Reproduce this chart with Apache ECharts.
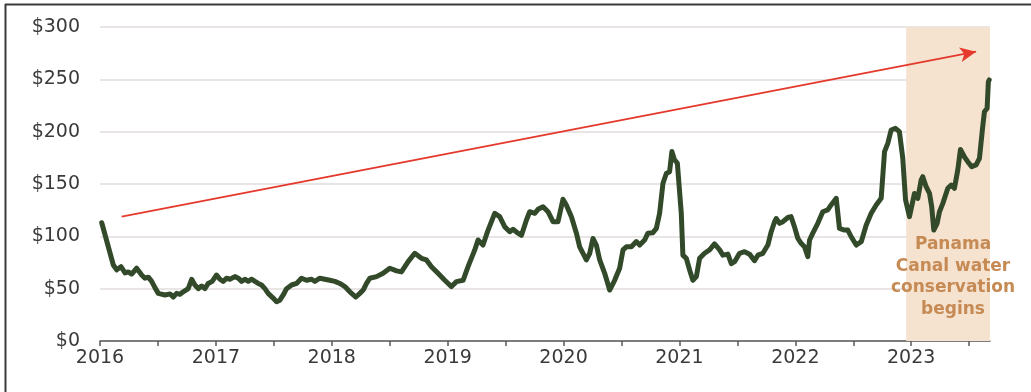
<!DOCTYPE html>
<html>
<head>
<meta charset="utf-8">
<script src="https://cdn.jsdelivr.net/npm/echarts@6/dist/echarts.min.js"></script>
<style>
  html, body { margin: 0; padding: 0; background: #ffffff; }
  #chart { width: 1031px; height: 392px; }
</style>
</head>
<body>
<div id="chart"></div>
<script>
// Weekly freight rate, dates as decimal years
const weeks = [
  2016.015, 2016.115, 2016.144, 2016.181, 2016.216, 2016.244, 2016.273, 2016.316, 2016.360, 2016.388,
  2016.417, 2016.446, 2016.474, 2016.503, 2016.561, 2016.604, 2016.632, 2016.661, 2016.690, 2016.718,
  2016.761, 2016.791, 2016.819, 2016.848, 2016.877, 2016.905, 2016.934, 2016.968, 2017.006, 2017.035,
  2017.063, 2017.093, 2017.121, 2017.164, 2017.193, 2017.222, 2017.250, 2017.279, 2017.308, 2017.337,
  2017.365, 2017.394, 2017.423, 2017.451, 2017.494, 2017.524, 2017.552, 2017.581, 2017.610, 2017.653,
  2017.696, 2017.739, 2017.782, 2017.826, 2017.854, 2017.897, 2017.940, 2017.983, 2018.027, 2018.070,
  2018.113, 2018.156, 2018.208, 2018.242, 2018.271, 2018.300, 2018.328, 2018.386, 2018.443, 2018.501,
  2018.559, 2018.601, 2018.659, 2018.716, 2018.774, 2018.817, 2018.860, 2018.917, 2018.975, 2019.033,
  2019.076, 2019.133, 2019.176, 2019.234, 2019.262, 2019.305, 2019.349, 2019.406, 2019.449, 2019.493,
  2019.536, 2019.564, 2019.607, 2019.637, 2019.680, 2019.708, 2019.751, 2019.780, 2019.823, 2019.866,
  2019.909, 2019.952, 2019.995, 2020.024, 2020.068, 2020.111, 2020.139, 2020.197, 2020.226, 2020.254,
  2020.283, 2020.312, 2020.355, 2020.398, 2020.441, 2020.484, 2020.513, 2020.542, 2020.585, 2020.628,
  2020.657, 2020.700, 2020.728, 2020.771, 2020.801, 2020.829, 2020.858, 2020.887, 2020.915, 2020.935,
  2020.958, 2020.982, 2021.016, 2021.030, 2021.059, 2021.088, 2021.116, 2021.146, 2021.174, 2021.217,
  2021.260, 2021.303, 2021.347, 2021.375, 2021.418, 2021.448, 2021.476, 2021.519, 2021.562, 2021.605,
  2021.648, 2021.677, 2021.720, 2021.763, 2021.792, 2021.821, 2021.835, 2021.864, 2021.893, 2021.936,
  2021.964, 2021.993, 2022.022, 2022.050, 2022.079, 2022.108, 2022.123, 2022.151, 2022.194, 2022.237,
  2022.280, 2022.309, 2022.353, 2022.381, 2022.424, 2022.453, 2022.482, 2022.526, 2022.569, 2022.612,
  2022.655, 2022.698, 2022.741, 2022.770, 2022.798, 2022.827, 2022.864, 2022.898, 2022.927, 2022.951,
  2022.985, 2023.028, 2023.057, 2023.086, 2023.100, 2023.129, 2023.158, 2023.177, 2023.195, 2023.224,
  2023.244, 2023.273, 2023.316, 2023.345, 2023.373, 2023.402, 2023.425, 2023.459, 2023.488, 2023.522,
  2023.560, 2023.589, 2023.617, 2023.632, 2023.655, 2023.666, 2023.673
];
const rates = [
  113, 72.6, 68, 71, 65, 66, 64, 69.5, 63, 60,
  61, 57, 51, 45.5, 44, 45, 42, 45.5, 44.6, 47,
  50, 59, 53.5, 50, 52.5, 50, 55, 57, 63, 59,
  57, 60, 59, 61.5, 60, 57, 59, 57, 59, 57,
  55, 53.5, 50, 45.5, 41, 37.5, 39, 44, 50, 53.5,
  55, 60, 58, 59, 57, 60, 59, 58, 57, 55,
  52, 47, 42, 45.5, 48.7, 55, 60, 61.5, 64.7, 69.5,
  67, 66, 75.8, 83.8, 79, 77.4, 71, 64.7, 58, 52,
  56.7, 58, 71, 87, 96.5, 91.7, 106, 122, 118.8, 109,
  104.4, 106.7, 103, 101, 115.6, 123.5, 122, 125.8, 128.3, 123.5,
  114, 114, 135.4, 130, 118.8, 103, 90, 77.4, 83.8, 98,
  91.7, 77.4, 64.7, 48.7, 58, 69.5, 87, 90, 90, 95,
  91.7, 96.5, 103, 103.5, 107.6, 122, 150.7, 160, 161.7, 181,
  173, 170, 122, 82, 79, 67.8, 58, 61.5, 79, 83.8,
  87, 92.7, 87, 82, 83, 74, 75.8, 83.8, 85.3, 83,
  76.7, 82, 83.8, 91.7, 104.4, 114, 117, 112.4, 114, 118,
  118.8, 109, 98, 93.3, 90, 80.5, 96.5, 103, 112.4, 123.5,
  125.2, 130, 136.3, 107.6, 106, 106, 99.6, 91.7, 94.9, 110.8,
  122, 130, 136.3, 181, 188.8, 201.6, 203.2, 200, 175, 135,
  118.8, 141, 136.3, 153.8, 157, 147.4, 141, 128.3, 106, 112.4,
  123.5, 131.5, 145.9, 149, 145.9, 163.4, 183, 176, 171.3, 166.6,
  168.2, 174.5, 204.7, 219, 222.3, 247.7, 249.4
];

// Axis ticks
const yearLabels = [2016, 2017, 2018, 2019, 2020, 2021, 2022, 2023];
const halfYearTicks = [2016, 2016.5, 2017, 2017.5, 2018, 2018.5, 2019, 2019.5,
  2020, 2020.5, 2021, 2021.5, 2022, 2022.5, 2023, 2023.5];

// Shaded period and trend arrow
const conservationPeriod = [2022.957, 2023.68];
const trendStart = [2016.187, 118.8];
const trendEnd = [2023.56, 276.4];
const noteText = 'Panama\nCanal water\nconservation\nbegins';

const points = weeks.map((w, i) => [w, rates[i]]);

const chart = echarts.init(document.getElementById('chart'), null, { renderer: 'canvas' });

chart.setOption({
  animation: false,
  backgroundColor: '#ffffff',
  grid: { left: 100, right: 41, top: 27, bottom: 51, outerBoundsMode: 'none' },
  xAxis: {
    type: 'value',
    min: 2016,
    max: conservationPeriod[1],
    splitLine: { show: false },
    axisLine: { show: true, lineStyle: { color: '#5a5a5a', width: 1.5 } },
    axisTick: {
      show: true,
      customValues: halfYearTicks,
      length: 5,
      lineStyle: { color: '#5a5a5a', width: 1.5 }
    },
    axisLabel: {
      customValues: yearLabels,
      formatter: v => String(v),
      color: '#3a3a3a',
      fontFamily: 'DejaVu Sans',
      fontSize: 19,
      margin: 8
    }
  },
  yAxis: {
    type: 'value',
    min: 0,
    max: 300,
    interval: 50,
    axisLine: { show: false },
    axisTick: { show: false },
    axisLabel: {
      formatter: '${value}',
      color: '#3a3a3a',
      fontFamily: 'DejaVu Sans',
      fontSize: 19,
      margin: 20
    },
    splitLine: { lineStyle: { color: '#e2dddd', width: 1.5 } }
  },
  series: [
    {
      type: 'line',
      data: points,
      showSymbol: false,
      symbol: 'none',
      lineStyle: { color: '#334a2a', width: 5, join: 'round', cap: 'round' },
      z: 3,
      markArea: {
        silent: true,
        itemStyle: { color: '#f5e2cf' },
        data: [[{ xAxis: conservationPeriod[0] }, { xAxis: conservationPeriod[1] }]]
      },
      markLine: {
        silent: true,
        symbol: ['none', 'arrow'],
        symbolSize: [11, 16],
        label: { show: false },
        lineStyle: { color: '#e5392c', width: 1.8, type: 'solid' },
        emphasis: { disabled: true },
        data: [[{ coord: trendStart }, { coord: trendEnd }]]
      }
    }
  ],
  graphic: [
    {
      type: 'line',
      shape: { x1: 5, y1: 4.5, x2: 1031, y2: 4.5 },
      style: { stroke: '#3a3a3a', lineWidth: 2 },
      silent: true
    },
    {
      type: 'line',
      shape: { x1: 5.5, y1: 4, x2: 5.5, y2: 392 },
      style: { stroke: '#3a3a3a', lineWidth: 2 },
      silent: true
    },
    {
      type: 'text',
      x: 953,
      y: 277,
      z: 10,
      silent: true,
      style: {
        text: noteText,
        fill: '#c68a55',
        font: 'bold 17px "DejaVu Sans"',
        lineHeight: 21.5,
        align: 'center',
        verticalAlign: 'middle'
      }
    }
  ]
});
</script>
</body>
</html>
